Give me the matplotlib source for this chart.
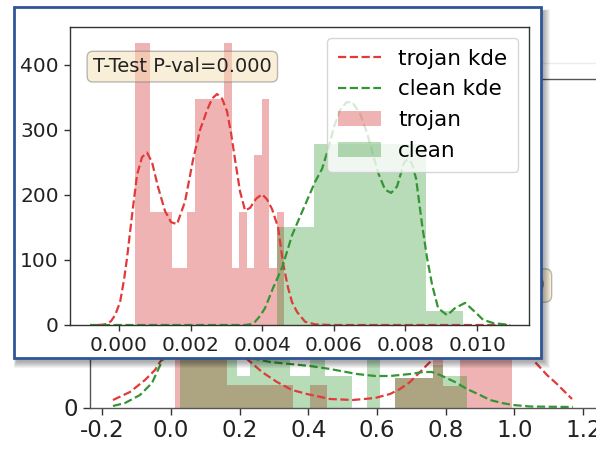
import numpy as np
import matplotlib
matplotlib.use("Agg")
import matplotlib.pyplot as plt
from matplotlib.patches import Rectangle
from matplotlib.ticker import FormatStrFormatter

# ---------------- data: inset (front) chart ----------------
inset_xticks = [0.000, 0.002, 0.004, 0.006, 0.008, 0.010]
inset_yticks = [0, 100, 200, 300, 400]

trojan_bin_lo, trojan_bin_hi, trojan_nbins = 0.000447, 0.00461, 20
trojan_heights = [433, 433, 174, 174, 174, 87, 87, 174, 347, 347,
                  347, 347, 433, 87, 174, 87, 261, 347, 87, 174]

clean_bin_lo, clean_bin_hi, clean_nbins = 0.004413, 0.009609, 5
clean_heights = [151, 278, 278, 278, 22]

trojan_kde_x = [-0.000587, -0.000447, -0.000335, -0.000223, -0.000112, 0.000028,
                0.00014, 0.000223, 0.000363, 0.000503, 0.000642, 0.000782,
                0.000922, 0.001089, 0.001285, 0.001453, 0.00162, 0.001844,
                0.002067, 0.002263, 0.002458, 0.002598, 0.002737, 0.002877,
                0.003017, 0.003128, 0.00324, 0.00338, 0.00352, 0.003659,
                0.003827, 0.003994, 0.004134, 0.004274, 0.004441, 0.004581,
                0.004721, 0.004832, 0.004972, 0.005196, 0.005475, 0.005894, 0.010838]
trojan_kde_y = [0, 0.5, 2, 6, 15, 35,
                70, 103, 169, 231, 258, 265,
                250, 212, 175, 158, 155, 190,
                254, 300, 330, 348, 355, 348,
                328, 295, 254, 205, 176, 180,
                194, 201, 193, 178, 150, 95,
                57, 35, 20, 5, 1, 0, 0]

clean_kde_x = [-0.00081, 0.00352, 0.003659, 0.003799, 0.003939, 0.004078,
               0.004302, 0.004553, 0.004832, 0.005112, 0.005475, 0.005670,
               0.005838, 0.006006, 0.006173, 0.006341, 0.006508, 0.006732,
               0.006927, 0.007235, 0.00743, 0.007598, 0.007765, 0.007961,
               0.008073, 0.008184, 0.008296, 0.008464, 0.008603, 0.008743,
               0.008911, 0.009162, 0.009385, 0.009665, 0.009944, 0.010168,
               0.010447, 0.010922]
clean_kde_y = [0, 0, 1, 5, 14, 26,
               57, 88, 138, 174, 220, 240,
               270, 305, 330, 342, 343, 325,
               295, 234, 208, 203, 213, 250,
               255, 248, 225, 154, 103, 62,
               26, 15, 26, 34, 20, 8,
               3, 0]

ttest_label = "T-Test P-val=0.000"
legend_labels = ["trojan kde", "clean kde", "trojan", "clean"]

# ---------------- data: background (behind) chart ----------------
bg_xticks = [-0.2, 0.0, 0.2, 0.4, 0.6, 0.8, 1.0, 1.2]
bg_yticks = [0, 1, 2, 3]

bg_trojan_edges = [0.012, 0.163, 0.355, 0.405, 0.454, 0.652, 0.763, 0.792, 0.841, 0.993]
bg_trojan_heights = [1.2, 0.23, 0.0, 0.23, 0.0, 0.30, 1.2, 0.22, 1.2]
bg_clean_edges = [0.026, 0.192, 0.230, 0.346, 0.405, 0.448, 0.527, 0.571,
                  0.608, 0.652, 0.763, 0.792, 0.862]
bg_clean_heights = [1.0, 0.32, 1.0, 0.32, 1.0, 0.32, 0.0, 1.0, 0.0, 0.30, 0.43, 0.32]

bg_trojan_kde_x = [-0.1689, -0.1194, -0.0757, -0.0466, -0.0262, 0.0116, 0.0553,
                   0.0990, 0.1426, 0.1863, 0.2213, 0.2649, 0.3086, 0.3523, 0.3959,
                   0.4629, 0.5298, 0.5939, 0.6376, 0.6667, 0.6958, 0.7249, 0.7540,
                   0.7977, 0.8559, 0.9287, 1.0015, 1.0597, 1.0946, 1.1237, 1.1470, 1.1674]
bg_trojan_kde_y = [0.075, 0.155, 0.275, 0.375, 0.485, 0.725, 0.975,
                   1.075, 0.975, 0.725, 0.485, 0.355, 0.255, 0.175, 0.135,
                   0.085, 0.075, 0.095, 0.135, 0.185, 0.255, 0.355, 0.455,
                   0.725, 0.975, 1.075, 0.875, 0.455, 0.325, 0.235, 0.155, 0.085]

bg_clean_kde_x = [-0.1689, -0.1339, -0.0902, -0.0553, -0.0233, 0.0262, 0.1135,
                  0.2009, 0.2410, 0.2882, 0.3464, 0.4047, 0.4629, 0.5415, 0.5939,
                  0.6376, 0.6958, 0.7336, 0.7598, 0.7831, 0.8268, 0.8617, 0.8996,
                  0.9287, 0.9636, 0.9956, 1.0451, 1.1703]
bg_clean_kde_y = [0.015, 0.045, 0.125, 0.245, 0.485, 0.8, 1.0,
                  0.8, 0.49, 0.455, 0.435, 0.415, 0.385, 0.335, 0.315,
                  0.315, 0.335, 0.355, 0.355, 0.325, 0.255, 0.185, 0.125,
                  0.075, 0.045, 0.025, 0.01, 0.005]

# ---------------- styles ----------------
TROJAN_BAR = "#d62728"
CLEAN_BAR = "#008000"
TROJAN_LINE = "#e23a3a"
CLEAN_LINE = "#349534"
FRAME_BLUE = "#2f5597"
SPINE = "#333333"
TXT = "#222222"

W, H = 596, 455
fig = plt.figure(figsize=(W / 100, H / 100), dpi=100)
fig.patch.set_facecolor("white")


def fx(px):
    return px / W


def fy(py):
    return 1 - py / H


def box(l, t, r, b):
    return [fx(l), fy(b), fx(r) - fx(l), fy(t) - fy(b)]


# ---------------- background chart ----------------
ax_bg = fig.add_axes(box(90, 79, 617, 407.5), zorder=0)
ax_bg.bar(bg_trojan_edges[:-1], bg_trojan_heights, width=np.diff(bg_trojan_edges),
          align="edge", color=TROJAN_BAR, alpha=0.35, linewidth=0)
ax_bg.bar(bg_clean_edges[:-1], bg_clean_heights, width=np.diff(bg_clean_edges),
          align="edge", color=CLEAN_BAR, alpha=0.28, linewidth=0)
ax_bg.plot(bg_trojan_kde_x, bg_trojan_kde_y, "--", color=TROJAN_LINE, lw=1.6)
ax_bg.plot(bg_clean_kde_x, bg_clean_kde_y, "--", color=CLEAN_LINE, lw=1.6)
ax_bg.set_xlim(-0.2358, 1.2984)
ax_bg.set_ylim(0, 3.285)
ax_bg.set_xticks(bg_xticks)
ax_bg.set_yticks(bg_yticks)
ax_bg.xaxis.set_major_formatter(FormatStrFormatter("%.1f"))
ax_bg.tick_params(labelsize=16.5, colors=SPINE, labelcolor=TXT, length=5, width=1)
for s in ax_bg.spines.values():
    s.set_color("#555555")
    s.set_linewidth(1.0)

fig.text(fx(545), fy(285.5), ttest_label, ha="right", va="center", fontsize=16,
         color=TXT, zorder=0.5,
         bbox=dict(boxstyle="round", facecolor="wheat", alpha=0.5, edgecolor="#777777"))

fig.add_artist(plt.Line2D([fx(541), fx(596)], [fy(63), fy(63)], color="#ececec",
                          lw=1, transform=fig.transFigure, zorder=0.5))

# ---------------- framed inset ----------------
# soft drop shadow
for k in range(7):
    fig.add_artist(Rectangle((fx(13.5 + 3 - k * 0.5), fy(358 + 4 + k)),
                             fx(541 + k) - fx(13.5 - k * 0.5),
                             fy(7 + 4 - k * 0.3) - fy(358 + 4 + k),
                             transform=fig.transFigure, facecolor="black",
                             edgecolor="none", alpha=0.05, zorder=1.5))
fig.add_artist(Rectangle((fx(13.5), fy(358)), fx(541) - fx(13.5), fy(7) - fy(358),
                         transform=fig.transFigure, facecolor="white",
                         edgecolor=FRAME_BLUE, linewidth=2.0, zorder=2))

ax = fig.add_axes(box(70, 27, 529, 325), zorder=3)
ax.set_facecolor("white")

trojan_edges = np.linspace(trojan_bin_lo, trojan_bin_hi, trojan_nbins + 1)
clean_edges = np.linspace(clean_bin_lo, clean_bin_hi, clean_nbins + 1)

_, _, tro_patches = ax.hist(trojan_edges[:-1], bins=trojan_edges, weights=trojan_heights,
                            color=TROJAN_BAR, alpha=0.35, linewidth=0)
_, _, cln_patches = ax.hist(clean_edges[:-1], bins=clean_edges, weights=clean_heights,
                            color=CLEAN_BAR, alpha=0.28, linewidth=0)
l1, = ax.plot(trojan_kde_x, trojan_kde_y, "--", color=TROJAN_LINE, lw=1.6)
l2, = ax.plot(clean_kde_x, clean_kde_y, "--", color=CLEAN_LINE, lw=1.6)

ax.set_xlim(-0.00137, 0.01145)
ax.set_ylim(0, 458)
ax.set_xticks(inset_xticks)
ax.set_yticks(inset_yticks)
ax.xaxis.set_major_formatter(FormatStrFormatter("%.3f"))
ax.tick_params(labelsize=14.5, colors=SPINE, labelcolor=TXT, length=4.5, width=1)
for s in ax.spines.values():
    s.set_color(SPINE)
    s.set_linewidth(1.0)

ax.text(0.05, 0.867, ttest_label, transform=ax.transAxes, ha="left", va="center",
        fontsize=14, color=TXT,
        bbox=dict(boxstyle="round", facecolor="wheat", alpha=0.5, edgecolor="#777777"))

ax.legend([l1, l2, tro_patches[0], cln_patches[0]], legend_labels, loc="upper right",
          fontsize=15.5, framealpha=0.8, edgecolor="#cccccc", labelspacing=0.5,
          handlelength=2.0, borderpad=0.5)

fig.savefig("out.png", dpi=100)
